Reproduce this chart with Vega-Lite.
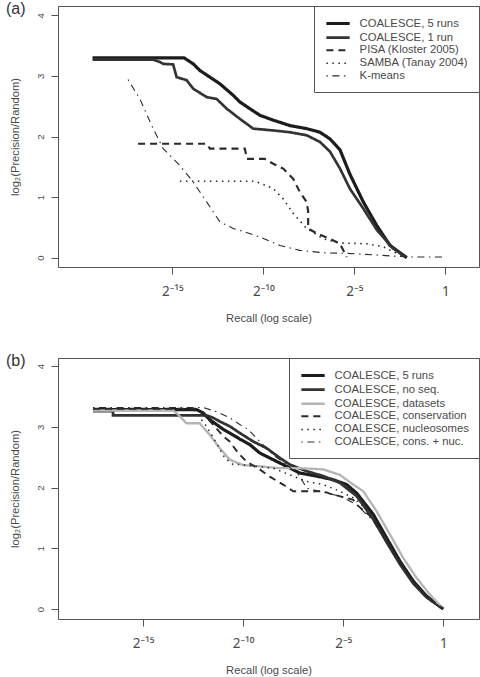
{
  "$schema": "https://vega.github.io/schema/vega-lite/v6.json",
  "background": "white",
  "padding": {"left": 5, "top": 0, "right": 0, "bottom": 0},
  "spacing": 28,
  "datasets": {
    "a": [
      {"method": "COALESCE, 5 runs", "i": 1, "log2_recall": -19.39, "log2_ratio": 3.30},
      {"method": "COALESCE, 5 runs", "i": 2, "log2_recall": -14.37, "log2_ratio": 3.30},
      {"method": "COALESCE, 5 runs", "i": 3, "log2_recall": -13.86, "log2_ratio": 3.20},
      {"method": "COALESCE, 5 runs", "i": 4, "log2_recall": -13.49, "log2_ratio": 3.09},
      {"method": "COALESCE, 5 runs", "i": 5, "log2_recall": -12.94, "log2_ratio": 2.98},
      {"method": "COALESCE, 5 runs", "i": 6, "log2_recall": -12.39, "log2_ratio": 2.87},
      {"method": "COALESCE, 5 runs", "i": 7, "log2_recall": -11.66, "log2_ratio": 2.68},
      {"method": "COALESCE, 5 runs", "i": 8, "log2_recall": -11.29, "log2_ratio": 2.57},
      {"method": "COALESCE, 5 runs", "i": 9, "log2_recall": -10.75, "log2_ratio": 2.46},
      {"method": "COALESCE, 5 runs", "i": 10, "log2_recall": -10.19, "log2_ratio": 2.35},
      {"method": "COALESCE, 5 runs", "i": 11, "log2_recall": -9.46, "log2_ratio": 2.27},
      {"method": "COALESCE, 5 runs", "i": 12, "log2_recall": -8.54, "log2_ratio": 2.18},
      {"method": "COALESCE, 5 runs", "i": 13, "log2_recall": -7.62, "log2_ratio": 2.13},
      {"method": "COALESCE, 5 runs", "i": 14, "log2_recall": -6.89, "log2_ratio": 2.07},
      {"method": "COALESCE, 5 runs", "i": 15, "log2_recall": -6.34, "log2_ratio": 1.96},
      {"method": "COALESCE, 5 runs", "i": 16, "log2_recall": -5.79, "log2_ratio": 1.78},
      {"method": "COALESCE, 5 runs", "i": 17, "log2_recall": -5.25, "log2_ratio": 1.38},
      {"method": "COALESCE, 5 runs", "i": 18, "log2_recall": -4.51, "log2_ratio": 0.92},
      {"method": "COALESCE, 5 runs", "i": 19, "log2_recall": -3.77, "log2_ratio": 0.53},
      {"method": "COALESCE, 5 runs", "i": 20, "log2_recall": -3.04, "log2_ratio": 0.20},
      {"method": "COALESCE, 5 runs", "i": 21, "log2_recall": -2.12, "log2_ratio": 0.0},

      {"method": "COALESCE, 1 run", "i": 1, "log2_recall": -19.39, "log2_ratio": 3.27},
      {"method": "COALESCE, 1 run", "i": 2, "log2_recall": -16.06, "log2_ratio": 3.27},
      {"method": "COALESCE, 1 run", "i": 3, "log2_recall": -15.69, "log2_ratio": 3.23},
      {"method": "COALESCE, 1 run", "i": 4, "log2_recall": -15.51, "log2_ratio": 3.20},
      {"method": "COALESCE, 1 run", "i": 5, "log2_recall": -14.96, "log2_ratio": 3.19},
      {"method": "COALESCE, 1 run", "i": 6, "log2_recall": -14.77, "log2_ratio": 2.98},
      {"method": "COALESCE, 1 run", "i": 7, "log2_recall": -14.22, "log2_ratio": 2.93},
      {"method": "COALESCE, 1 run", "i": 8, "log2_recall": -13.86, "log2_ratio": 2.79},
      {"method": "COALESCE, 1 run", "i": 9, "log2_recall": -13.12, "log2_ratio": 2.65},
      {"method": "COALESCE, 1 run", "i": 10, "log2_recall": -12.57, "log2_ratio": 2.62},
      {"method": "COALESCE, 1 run", "i": 11, "log2_recall": -12.02, "log2_ratio": 2.46},
      {"method": "COALESCE, 1 run", "i": 12, "log2_recall": -11.29, "log2_ratio": 2.29},
      {"method": "COALESCE, 1 run", "i": 13, "log2_recall": -10.56, "log2_ratio": 2.13},
      {"method": "COALESCE, 1 run", "i": 14, "log2_recall": -9.46, "log2_ratio": 2.10},
      {"method": "COALESCE, 1 run", "i": 15, "log2_recall": -8.54, "log2_ratio": 2.07},
      {"method": "COALESCE, 1 run", "i": 16, "log2_recall": -7.62, "log2_ratio": 2.02},
      {"method": "COALESCE, 1 run", "i": 17, "log2_recall": -6.89, "log2_ratio": 1.91},
      {"method": "COALESCE, 1 run", "i": 18, "log2_recall": -6.34, "log2_ratio": 1.75},
      {"method": "COALESCE, 1 run", "i": 19, "log2_recall": -5.79, "log2_ratio": 1.47},
      {"method": "COALESCE, 1 run", "i": 20, "log2_recall": -5.25, "log2_ratio": 1.14},
      {"method": "COALESCE, 1 run", "i": 21, "log2_recall": -4.51, "log2_ratio": 0.81},
      {"method": "COALESCE, 1 run", "i": 22, "log2_recall": -3.77, "log2_ratio": 0.46},
      {"method": "COALESCE, 1 run", "i": 23, "log2_recall": -2.86, "log2_ratio": 0.15},
      {"method": "COALESCE, 1 run", "i": 24, "log2_recall": -2.12, "log2_ratio": 0.0},

      {"method": "PISA (Kloster 2005)", "i": 1, "log2_recall": -16.89, "log2_ratio": 1.88},
      {"method": "PISA (Kloster 2005)", "i": 2, "log2_recall": -13.12, "log2_ratio": 1.88},
      {"method": "PISA (Kloster 2005)", "i": 3, "log2_recall": -12.94, "log2_ratio": 1.80},
      {"method": "PISA (Kloster 2005)", "i": 4, "log2_recall": -11.02, "log2_ratio": 1.80},
      {"method": "PISA (Kloster 2005)", "i": 5, "log2_recall": -10.91, "log2_ratio": 1.63},
      {"method": "PISA (Kloster 2005)", "i": 6, "log2_recall": -9.92, "log2_ratio": 1.63},
      {"method": "PISA (Kloster 2005)", "i": 7, "log2_recall": -9.46, "log2_ratio": 1.55},
      {"method": "PISA (Kloster 2005)", "i": 8, "log2_recall": -8.91, "log2_ratio": 1.47},
      {"method": "PISA (Kloster 2005)", "i": 9, "log2_recall": -8.36, "log2_ratio": 1.30},
      {"method": "PISA (Kloster 2005)", "i": 10, "log2_recall": -7.99, "log2_ratio": 1.08},
      {"method": "PISA (Kloster 2005)", "i": 11, "log2_recall": -7.62, "log2_ratio": 0.92},
      {"method": "PISA (Kloster 2005)", "i": 12, "log2_recall": -7.54, "log2_ratio": 0.76},
      {"method": "PISA (Kloster 2005)", "i": 13, "log2_recall": -7.54, "log2_ratio": 0.48},
      {"method": "PISA (Kloster 2005)", "i": 14, "log2_recall": -7.07, "log2_ratio": 0.40},
      {"method": "PISA (Kloster 2005)", "i": 15, "log2_recall": -6.34, "log2_ratio": 0.31},
      {"method": "PISA (Kloster 2005)", "i": 16, "log2_recall": -5.79, "log2_ratio": 0.23},
      {"method": "PISA (Kloster 2005)", "i": 17, "log2_recall": -5.42, "log2_ratio": 0.01},

      {"method": "SAMBA (Tanay 2004)", "i": 1, "log2_recall": -14.59, "log2_ratio": 1.26},
      {"method": "SAMBA (Tanay 2004)", "i": 2, "log2_recall": -10.47, "log2_ratio": 1.26},
      {"method": "SAMBA (Tanay 2004)", "i": 3, "log2_recall": -9.92, "log2_ratio": 1.20},
      {"method": "SAMBA (Tanay 2004)", "i": 4, "log2_recall": -9.46, "log2_ratio": 1.14},
      {"method": "SAMBA (Tanay 2004)", "i": 5, "log2_recall": -8.91, "log2_ratio": 0.97},
      {"method": "SAMBA (Tanay 2004)", "i": 6, "log2_recall": -8.36, "log2_ratio": 0.73},
      {"method": "SAMBA (Tanay 2004)", "i": 7, "log2_recall": -7.62, "log2_ratio": 0.48},
      {"method": "SAMBA (Tanay 2004)", "i": 8, "log2_recall": -6.71, "log2_ratio": 0.31},
      {"method": "SAMBA (Tanay 2004)", "i": 9, "log2_recall": -5.79, "log2_ratio": 0.24},
      {"method": "SAMBA (Tanay 2004)", "i": 10, "log2_recall": -4.32, "log2_ratio": 0.23},
      {"method": "SAMBA (Tanay 2004)", "i": 11, "log2_recall": -3.41, "log2_ratio": 0.18},
      {"method": "SAMBA (Tanay 2004)", "i": 12, "log2_recall": -2.67, "log2_ratio": 0.07},
      {"method": "SAMBA (Tanay 2004)", "i": 13, "log2_recall": -2.12, "log2_ratio": 0.01},

      {"method": "K-means", "i": 1, "log2_recall": -17.44, "log2_ratio": 2.94},
      {"method": "K-means", "i": 2, "log2_recall": -16.79, "log2_ratio": 2.62},
      {"method": "K-means", "i": 3, "log2_recall": -16.06, "log2_ratio": 2.13},
      {"method": "K-means", "i": 4, "log2_recall": -15.51, "log2_ratio": 1.80},
      {"method": "K-means", "i": 5, "log2_recall": -14.59, "log2_ratio": 1.52},
      {"method": "K-means", "i": 6, "log2_recall": -13.86, "log2_ratio": 1.25},
      {"method": "K-means", "i": 7, "log2_recall": -13.12, "log2_ratio": 0.92},
      {"method": "K-means", "i": 8, "log2_recall": -12.39, "log2_ratio": 0.59},
      {"method": "K-means", "i": 9, "log2_recall": -11.66, "log2_ratio": 0.48},
      {"method": "K-means", "i": 10, "log2_recall": -11.29, "log2_ratio": 0.45},
      {"method": "K-means", "i": 11, "log2_recall": -10.19, "log2_ratio": 0.34},
      {"method": "K-means", "i": 12, "log2_recall": -9.09, "log2_ratio": 0.20},
      {"method": "K-means", "i": 13, "log2_recall": -7.99, "log2_ratio": 0.12},
      {"method": "K-means", "i": 14, "log2_recall": -6.71, "log2_ratio": 0.08},
      {"method": "K-means", "i": 15, "log2_recall": -5.42, "log2_ratio": 0.07},
      {"method": "K-means", "i": 16, "log2_recall": -3.59, "log2_ratio": 0.04},
      {"method": "K-means", "i": 17, "log2_recall": -2.12, "log2_ratio": 0.01},
      {"method": "K-means", "i": 18, "log2_recall": -0.02, "log2_ratio": 0.01}
    ],
    "b": [
      {"method": "COALESCE, 5 runs", "i": 1, "log2_recall": -17.5, "log2_ratio": 3.285},
      {"method": "COALESCE, 5 runs", "i": 2, "log2_recall": -12.33, "log2_ratio": 3.285},
      {"method": "COALESCE, 5 runs", "i": 3, "log2_recall": -12.0, "log2_ratio": 3.23},
      {"method": "COALESCE, 5 runs", "i": 4, "log2_recall": -11.67, "log2_ratio": 3.12},
      {"method": "COALESCE, 5 runs", "i": 5, "log2_recall": -11.33, "log2_ratio": 3.04},
      {"method": "COALESCE, 5 runs", "i": 6, "log2_recall": -11.0, "log2_ratio": 2.96},
      {"method": "COALESCE, 5 runs", "i": 7, "log2_recall": -10.67, "log2_ratio": 2.90},
      {"method": "COALESCE, 5 runs", "i": 8, "log2_recall": -10.17, "log2_ratio": 2.80},
      {"method": "COALESCE, 5 runs", "i": 9, "log2_recall": -9.67, "log2_ratio": 2.71},
      {"method": "COALESCE, 5 runs", "i": 10, "log2_recall": -9.17, "log2_ratio": 2.57},
      {"method": "COALESCE, 5 runs", "i": 11, "log2_recall": -8.5, "log2_ratio": 2.46},
      {"method": "COALESCE, 5 runs", "i": 12, "log2_recall": -7.83, "log2_ratio": 2.35},
      {"method": "COALESCE, 5 runs", "i": 13, "log2_recall": -7.17, "log2_ratio": 2.24},
      {"method": "COALESCE, 5 runs", "i": 14, "log2_recall": -6.33, "log2_ratio": 2.19},
      {"method": "COALESCE, 5 runs", "i": 15, "log2_recall": -5.5, "log2_ratio": 2.13},
      {"method": "COALESCE, 5 runs", "i": 16, "log2_recall": -4.83, "log2_ratio": 2.05},
      {"method": "COALESCE, 5 runs", "i": 17, "log2_recall": -4.33, "log2_ratio": 1.91},
      {"method": "COALESCE, 5 runs", "i": 18, "log2_recall": -3.5, "log2_ratio": 1.56},
      {"method": "COALESCE, 5 runs", "i": 19, "log2_recall": -2.83, "log2_ratio": 1.17},
      {"method": "COALESCE, 5 runs", "i": 20, "log2_recall": -2.17, "log2_ratio": 0.79},
      {"method": "COALESCE, 5 runs", "i": 21, "log2_recall": -1.5, "log2_ratio": 0.46},
      {"method": "COALESCE, 5 runs", "i": 22, "log2_recall": -0.83, "log2_ratio": 0.21},
      {"method": "COALESCE, 5 runs", "i": 23, "log2_recall": 0.0, "log2_ratio": 0.0},

      {"method": "COALESCE, no seq.", "i": 1, "log2_recall": -17.5, "log2_ratio": 3.26},
      {"method": "COALESCE, no seq.", "i": 2, "log2_recall": -16.5, "log2_ratio": 3.26},
      {"method": "COALESCE, no seq.", "i": 3, "log2_recall": -16.5, "log2_ratio": 3.19},
      {"method": "COALESCE, no seq.", "i": 4, "log2_recall": -11.83, "log2_ratio": 3.19},
      {"method": "COALESCE, no seq.", "i": 5, "log2_recall": -11.5, "log2_ratio": 3.15},
      {"method": "COALESCE, no seq.", "i": 6, "log2_recall": -11.17, "log2_ratio": 3.09},
      {"method": "COALESCE, no seq.", "i": 7, "log2_recall": -10.67, "log2_ratio": 3.01},
      {"method": "COALESCE, no seq.", "i": 8, "log2_recall": -10.17, "log2_ratio": 2.90},
      {"method": "COALESCE, no seq.", "i": 9, "log2_recall": -9.5, "log2_ratio": 2.76},
      {"method": "COALESCE, no seq.", "i": 10, "log2_recall": -8.83, "log2_ratio": 2.65},
      {"method": "COALESCE, no seq.", "i": 11, "log2_recall": -8.17, "log2_ratio": 2.49},
      {"method": "COALESCE, no seq.", "i": 12, "log2_recall": -7.67, "log2_ratio": 2.38},
      {"method": "COALESCE, no seq.", "i": 13, "log2_recall": -6.83, "log2_ratio": 2.27},
      {"method": "COALESCE, no seq.", "i": 14, "log2_recall": -6.0, "log2_ratio": 2.19},
      {"method": "COALESCE, no seq.", "i": 15, "log2_recall": -5.17, "log2_ratio": 2.08},
      {"method": "COALESCE, no seq.", "i": 16, "log2_recall": -4.33, "log2_ratio": 1.86},
      {"method": "COALESCE, no seq.", "i": 17, "log2_recall": -3.5, "log2_ratio": 1.48},
      {"method": "COALESCE, no seq.", "i": 18, "log2_recall": -2.83, "log2_ratio": 1.10},
      {"method": "COALESCE, no seq.", "i": 19, "log2_recall": -2.17, "log2_ratio": 0.74},
      {"method": "COALESCE, no seq.", "i": 20, "log2_recall": -1.5, "log2_ratio": 0.42},
      {"method": "COALESCE, no seq.", "i": 21, "log2_recall": -0.83, "log2_ratio": 0.19},
      {"method": "COALESCE, no seq.", "i": 22, "log2_recall": 0.0, "log2_ratio": 0.0},

      {"method": "COALESCE, datasets", "i": 1, "log2_recall": -17.5, "log2_ratio": 3.27},
      {"method": "COALESCE, datasets", "i": 2, "log2_recall": -13.5, "log2_ratio": 3.27},
      {"method": "COALESCE, datasets", "i": 3, "log2_recall": -13.33, "log2_ratio": 3.23},
      {"method": "COALESCE, datasets", "i": 4, "log2_recall": -12.83, "log2_ratio": 3.06},
      {"method": "COALESCE, datasets", "i": 5, "log2_recall": -12.17, "log2_ratio": 3.06},
      {"method": "COALESCE, datasets", "i": 6, "log2_recall": -11.67, "log2_ratio": 2.87},
      {"method": "COALESCE, datasets", "i": 7, "log2_recall": -11.17, "log2_ratio": 2.65},
      {"method": "COALESCE, datasets", "i": 8, "log2_recall": -10.67, "log2_ratio": 2.46},
      {"method": "COALESCE, datasets", "i": 9, "log2_recall": -10.0, "log2_ratio": 2.37},
      {"method": "COALESCE, datasets", "i": 10, "log2_recall": -9.17, "log2_ratio": 2.35},
      {"method": "COALESCE, datasets", "i": 11, "log2_recall": -8.17, "log2_ratio": 2.32},
      {"method": "COALESCE, datasets", "i": 12, "log2_recall": -7.17, "log2_ratio": 2.32},
      {"method": "COALESCE, datasets", "i": 13, "log2_recall": -6.0, "log2_ratio": 2.30},
      {"method": "COALESCE, datasets", "i": 14, "log2_recall": -5.17, "log2_ratio": 2.21},
      {"method": "COALESCE, datasets", "i": 15, "log2_recall": -4.5, "log2_ratio": 2.05},
      {"method": "COALESCE, datasets", "i": 16, "log2_recall": -4.0, "log2_ratio": 1.94},
      {"method": "COALESCE, datasets", "i": 17, "log2_recall": -3.33, "log2_ratio": 1.61},
      {"method": "COALESCE, datasets", "i": 18, "log2_recall": -2.67, "log2_ratio": 1.23},
      {"method": "COALESCE, datasets", "i": 19, "log2_recall": -2.0, "log2_ratio": 0.84},
      {"method": "COALESCE, datasets", "i": 20, "log2_recall": -1.33, "log2_ratio": 0.51},
      {"method": "COALESCE, datasets", "i": 21, "log2_recall": -0.67, "log2_ratio": 0.24},
      {"method": "COALESCE, datasets", "i": 22, "log2_recall": 0.0, "log2_ratio": 0.0},

      {"method": "COALESCE, conservation", "i": 1, "log2_recall": -17.5, "log2_ratio": 3.30},
      {"method": "COALESCE, conservation", "i": 2, "log2_recall": -12.3, "log2_ratio": 3.30},
      {"method": "COALESCE, conservation", "i": 3, "log2_recall": -11.67, "log2_ratio": 3.10},
      {"method": "COALESCE, conservation", "i": 4, "log2_recall": -11.0, "log2_ratio": 2.85},
      {"method": "COALESCE, conservation", "i": 5, "log2_recall": -10.67, "log2_ratio": 2.76},
      {"method": "COALESCE, conservation", "i": 6, "log2_recall": -10.25, "log2_ratio": 2.57},
      {"method": "COALESCE, conservation", "i": 7, "log2_recall": -9.83, "log2_ratio": 2.43},
      {"method": "COALESCE, conservation", "i": 8, "log2_recall": -9.17, "log2_ratio": 2.30},
      {"method": "COALESCE, conservation", "i": 9, "log2_recall": -8.67, "log2_ratio": 2.18},
      {"method": "COALESCE, conservation", "i": 10, "log2_recall": -8.0, "log2_ratio": 2.05},
      {"method": "COALESCE, conservation", "i": 11, "log2_recall": -7.5, "log2_ratio": 1.94},
      {"method": "COALESCE, conservation", "i": 12, "log2_recall": -6.0, "log2_ratio": 1.94},
      {"method": "COALESCE, conservation", "i": 13, "log2_recall": -5.67, "log2_ratio": 1.90},
      {"method": "COALESCE, conservation", "i": 14, "log2_recall": -4.5, "log2_ratio": 1.80},
      {"method": "COALESCE, conservation", "i": 15, "log2_recall": -4.33, "log2_ratio": 1.72},
      {"method": "COALESCE, conservation", "i": 16, "log2_recall": -3.5, "log2_ratio": 1.49},
      {"method": "COALESCE, conservation", "i": 17, "log2_recall": -2.83, "log2_ratio": 1.12},
      {"method": "COALESCE, conservation", "i": 18, "log2_recall": -2.17, "log2_ratio": 0.76},
      {"method": "COALESCE, conservation", "i": 19, "log2_recall": -1.5, "log2_ratio": 0.44},
      {"method": "COALESCE, conservation", "i": 20, "log2_recall": -0.83, "log2_ratio": 0.20},
      {"method": "COALESCE, conservation", "i": 21, "log2_recall": 0.0, "log2_ratio": 0.0},

      {"method": "COALESCE, nucleosomes", "i": 1, "log2_recall": -17.5, "log2_ratio": 3.30},
      {"method": "COALESCE, nucleosomes", "i": 2, "log2_recall": -12.5, "log2_ratio": 3.30},
      {"method": "COALESCE, nucleosomes", "i": 3, "log2_recall": -11.83, "log2_ratio": 3.01},
      {"method": "COALESCE, nucleosomes", "i": 4, "log2_recall": -11.33, "log2_ratio": 2.73},
      {"method": "COALESCE, nucleosomes", "i": 5, "log2_recall": -10.92, "log2_ratio": 2.49},
      {"method": "COALESCE, nucleosomes", "i": 6, "log2_recall": -10.5, "log2_ratio": 2.38},
      {"method": "COALESCE, nucleosomes", "i": 7, "log2_recall": -10.17, "log2_ratio": 2.38},
      {"method": "COALESCE, nucleosomes", "i": 8, "log2_recall": -8.5, "log2_ratio": 2.32},
      {"method": "COALESCE, nucleosomes", "i": 9, "log2_recall": -7.67, "log2_ratio": 2.21},
      {"method": "COALESCE, nucleosomes", "i": 10, "log2_recall": -6.83, "log2_ratio": 2.10},
      {"method": "COALESCE, nucleosomes", "i": 11, "log2_recall": -6.0, "log2_ratio": 2.05},
      {"method": "COALESCE, nucleosomes", "i": 12, "log2_recall": -5.17, "log2_ratio": 1.94},
      {"method": "COALESCE, nucleosomes", "i": 13, "log2_recall": -4.5, "log2_ratio": 1.83},
      {"method": "COALESCE, nucleosomes", "i": 14, "log2_recall": -3.83, "log2_ratio": 1.65},
      {"method": "COALESCE, nucleosomes", "i": 15, "log2_recall": -3.17, "log2_ratio": 1.35},
      {"method": "COALESCE, nucleosomes", "i": 16, "log2_recall": -2.5, "log2_ratio": 0.98},
      {"method": "COALESCE, nucleosomes", "i": 17, "log2_recall": -1.83, "log2_ratio": 0.63},
      {"method": "COALESCE, nucleosomes", "i": 18, "log2_recall": -1.17, "log2_ratio": 0.33},
      {"method": "COALESCE, nucleosomes", "i": 19, "log2_recall": -0.5, "log2_ratio": 0.10},
      {"method": "COALESCE, nucleosomes", "i": 20, "log2_recall": 0.0, "log2_ratio": 0.0},

      {"method": "COALESCE, cons. + nuc.", "i": 1, "log2_recall": -17.5, "log2_ratio": 3.32},
      {"method": "COALESCE, cons. + nuc.", "i": 2, "log2_recall": -12.0, "log2_ratio": 3.32},
      {"method": "COALESCE, cons. + nuc.", "i": 3, "log2_recall": -11.33, "log2_ratio": 3.25},
      {"method": "COALESCE, cons. + nuc.", "i": 4, "log2_recall": -10.67, "log2_ratio": 3.15},
      {"method": "COALESCE, cons. + nuc.", "i": 5, "log2_recall": -10.17, "log2_ratio": 3.04},
      {"method": "COALESCE, cons. + nuc.", "i": 6, "log2_recall": -9.75, "log2_ratio": 2.96},
      {"method": "COALESCE, cons. + nuc.", "i": 7, "log2_recall": -9.17, "log2_ratio": 2.76},
      {"method": "COALESCE, cons. + nuc.", "i": 8, "log2_recall": -8.5, "log2_ratio": 2.54},
      {"method": "COALESCE, cons. + nuc.", "i": 9, "log2_recall": -7.83, "log2_ratio": 2.38},
      {"method": "COALESCE, cons. + nuc.", "i": 10, "log2_recall": -7.17, "log2_ratio": 2.19},
      {"method": "COALESCE, cons. + nuc.", "i": 11, "log2_recall": -6.83, "log2_ratio": 1.99},
      {"method": "COALESCE, cons. + nuc.", "i": 12, "log2_recall": -5.83, "log2_ratio": 1.91},
      {"method": "COALESCE, cons. + nuc.", "i": 13, "log2_recall": -5.17, "log2_ratio": 1.86},
      {"method": "COALESCE, cons. + nuc.", "i": 14, "log2_recall": -4.33, "log2_ratio": 1.72},
      {"method": "COALESCE, cons. + nuc.", "i": 15, "log2_recall": -3.5, "log2_ratio": 1.45},
      {"method": "COALESCE, cons. + nuc.", "i": 16, "log2_recall": -2.83, "log2_ratio": 1.10},
      {"method": "COALESCE, cons. + nuc.", "i": 17, "log2_recall": -2.17, "log2_ratio": 0.75},
      {"method": "COALESCE, cons. + nuc.", "i": 18, "log2_recall": -1.5, "log2_ratio": 0.43},
      {"method": "COALESCE, cons. + nuc.", "i": 19, "log2_recall": -0.83, "log2_ratio": 0.19},
      {"method": "COALESCE, cons. + nuc.", "i": 20, "log2_recall": 0.0, "log2_ratio": 0.0}
    ]
  },
  "vconcat": [
    {
      "width": 421,
      "height": 261,
      "title": {"text": "(a)", "anchor": "start", "frame": "bounds", "offset": -11, "dx": -3},
      "data": {"name": "a"},
      "mark": {"type": "line", "interpolate": "linear", "clip": true},
      "encoding": {
        "x": {"field": "log2_recall", "type": "quantitative",
              "scale": {"domain": [-21.29, 1.85], "nice": false, "zero": false},
              "axis": {"values": [-15, -10, -5, 0], "title": "Recall (log scale)",
                       "labelExpr": "datum.value == -15 ? '2⁻¹⁵' : datum.value == -10 ? '2⁻¹⁰' : datum.value == -5 ? '2⁻⁵' : '1'"}},
        "y": {"field": "log2_ratio", "type": "quantitative",
              "scale": {"domain": [-0.155, 4.155], "nice": false, "zero": false},
              "axis": {"values": [0, 1, 2, 3, 4], "title": "log₂(Precision/Random)"}},
        "order": {"field": "i", "type": "quantitative"},
        "detail": {"field": "method"},
        "strokeDash": {"field": "method", "type": "nominal",
                       "scale": {"domain": ["COALESCE, 5 runs", "COALESCE, 1 run", "PISA (Kloster 2005)", "SAMBA (Tanay 2004)", "K-means"],
                                 "range": [[1, 0], [1, 0], [7, 5], [1.5, 4.5], [1.5, 4.5, 7, 4.5]]},
                       "legend": {"title": null}},
        "strokeWidth": {"field": "method", "type": "nominal",
                        "scale": {"domain": ["COALESCE, 5 runs", "COALESCE, 1 run", "PISA (Kloster 2005)", "SAMBA (Tanay 2004)", "K-means"],
                                  "range": [3.2, 1.1, 1.3, 1.3, 1.3]},
                        "legend": {"title": null}},
        "color": {"field": "method", "type": "nominal",
                  "scale": {"domain": ["COALESCE, 5 runs", "COALESCE, 1 run", "PISA (Kloster 2005)", "SAMBA (Tanay 2004)", "K-means"],
                            "range": ["#1c1c1c", "#333333", "#2a2a2a", "#2a2a2a", "#2a2a2a"]},
                  "legend": {"title": null}}
      }
    },
    {
      "width": 421,
      "height": 261,
      "title": {"text": "(b)", "anchor": "start", "frame": "bounds", "offset": -11, "dx": -3},
      "data": {"name": "b"},
      "mark": {"type": "line", "interpolate": "linear", "clip": true},
      "encoding": {
        "x": {"field": "log2_recall", "type": "quantitative",
              "scale": {"domain": [-19.25, 1.785], "nice": false, "zero": false},
              "axis": {"values": [-15, -10, -5, 0], "title": "Recall (log scale)",
                       "labelExpr": "datum.value == -15 ? '2⁻¹⁵' : datum.value == -10 ? '2⁻¹⁰' : datum.value == -5 ? '2⁻⁵' : '1'"}},
        "y": {"field": "log2_ratio", "type": "quantitative",
              "scale": {"domain": [-0.165, 4.135], "nice": false, "zero": false},
              "axis": {"values": [0, 1, 2, 3, 4], "title": "log₂(Precision/Random)"}},
        "order": {"field": "i", "type": "quantitative"},
        "detail": {"field": "method"},
        "strokeDash": {"field": "method", "type": "nominal",
                       "scale": {"domain": ["COALESCE, 5 runs", "COALESCE, no seq.", "COALESCE, datasets", "COALESCE, conservation", "COALESCE, nucleosomes", "COALESCE, cons. + nuc."],
                                 "range": [[1, 0], [1, 0], [1, 0], [7, 5], [1.5, 4.5], [1.5, 4.5, 7, 4.5]]},
                       "legend": {"title": null}},
        "strokeWidth": {"field": "method", "type": "nominal",
                        "scale": {"domain": ["COALESCE, 5 runs", "COALESCE, no seq.", "COALESCE, datasets", "COALESCE, conservation", "COALESCE, nucleosomes", "COALESCE, cons. + nuc."],
                                  "range": [3.2, 1.1, 1.5, 1.3, 1.3, 1.3]},
                        "legend": {"title": null}},
        "color": {"field": "method", "type": "nominal",
                  "scale": {"domain": ["COALESCE, 5 runs", "COALESCE, no seq.", "COALESCE, datasets", "COALESCE, conservation", "COALESCE, nucleosomes", "COALESCE, cons. + nuc."],
                            "range": ["#1c1c1c", "#333333", "#b5b5b5", "#2a2a2a", "#2a2a2a", "#2a2a2a"]},
                  "legend": {"title": null}}
      }
    }
  ],
  "resolve": {"scale": {"x": "independent", "y": "independent", "color": "independent", "strokeDash": "independent", "strokeWidth": "independent"}, "legend": {"color": "independent", "strokeDash": "independent", "strokeWidth": "independent"}},
  "config": {
    "font": "Liberation Sans",
    "view": {"stroke": "#555555", "strokeWidth": 1},
    "title": {"fontSize": 16, "fontWeight": "normal", "color": "#333333", "font": "Liberation Sans"},
    "axis": {
      "domain": false, "grid": false, "ticks": true, "tickColor": "#555555", "tickSize": 7, "tickWidth": 1,
      "labelColor": "#4a4a4a", "titleColor": "#4a4a4a", "labelFont": "Liberation Sans", "titleFont": "Liberation Sans",
      "titleFontWeight": "normal", "titleFontSize": 11.2
    },
    "axisX": {"labelFont": "Noto Sans", "labelFontSize": 13.5, "labelPadding": 10.5, "titlePadding": 14, "labelFlush": false},
    "axisY": {"labelFontSize": 9.5, "labelAngle": -90, "labelAlign": "center", "labelBaseline": "alphabetic", "labelPadding": 8, "titlePadding": 15},
    "legend": {
      "orient": "top-right", "offset": 0, "padding": 10, "strokeColor": "#555555", "fillColor": "white",
      "labelFont": "Liberation Sans", "labelFontSize": 11.3, "labelColor": "#4a4a4a", "labelOffset": 20.6, "labelLimit": 300,
      "symbolType": "M-0.88,0H3.12", "symbolSize": 136, "rowPadding": 0.1, "cornerRadius": 0
    }
  }
}
